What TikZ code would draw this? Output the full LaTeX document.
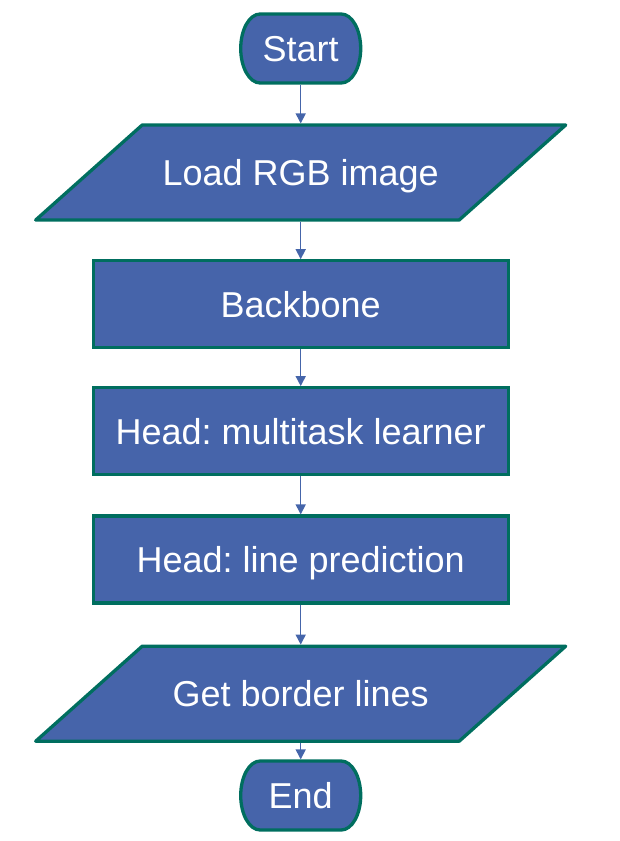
\documentclass[tikz,border=0pt]{standalone}
\usepackage{fontspec}
\setmainfont{Liberation Sans}
\usetikzlibrary{arrows.meta,backgrounds}
\definecolor{fillblue}{RGB}{70,100,170}
\definecolor{edgeteal}{RGB}{0,110,95}
\definecolor{arrowblue}{RGB}{69,101,170}
\frenchspacing
\begin{document}
\begin{tikzpicture}[x=1pt,y=-1pt,
  txt/.style={font=\fontsize{36}{40}\selectfont\frenchspacing, text=white, text height=25.8pt, text depth=0pt},
  procbox/.style={draw=edgeteal, fill=fillblue, line width=3.3pt, minimum width=415pt, minimum height=87pt, inner sep=0pt, outer sep=0pt, txt},
  holder/.style={inner sep=0pt, outer sep=0pt, txt},
  termholder/.style={holder, minimum width=120pt, minimum height=69pt},
  ioholder/.style={holder, minimum width=530pt, minimum height=95pt},
  shapeline/.style={draw=edgeteal, fill=fillblue, line width=3.3pt, line join=round},
  flow/.style={draw=arrowblue, line width=1.5pt, shorten <=1.6pt, shorten >=1.6pt, -{Triangle[length=10pt,width=10pt]}}
]
\useasboundingbox (0,0) rectangle (619,841);

\node[termholder] (start) at (300.7,48.5) {Start};
\node[ioholder] (load) at (300.7,172.5) {Load RGB image};
\node[procbox] (backbone) at (300.7,304.3) {Backbone};
\node[procbox] (multi) at (300.7,431.2) {Head: multitask learner};
\node[procbox] (linepred) at (300.7,559.5) {Head: line prediction};
\node[ioholder] (border) at (300.7,693.7) {Get border lines};
\node[termholder] (end) at (300.7,795.5) {End};

\begin{scope}[on background layer]
  \foreach \n in {start,end}{
    \draw[shapeline] ([xshift=19.5pt]\n.north west) -- ([xshift=-19.5pt]\n.north east)
      arc[start angle=90,end angle=-90,x radius=19.5pt,y radius=34.5pt]
      -- ([xshift=19.5pt]\n.south west)
      arc[start angle=270,end angle=90,x radius=19.5pt,y radius=34.5pt] -- cycle;
  }
  \foreach \n in {load,border}{
    \draw[shapeline] ([xshift=106.5pt]\n.north west) -- (\n.north east)
      -- ([xshift=-106.5pt]\n.south east) -- (\n.south west) -- cycle;
  }
\end{scope}

\draw[flow] (start.south) -- (load.north);
\draw[flow] (load.south) -- (backbone.north);
\draw[flow] (backbone.south) -- (multi.north);
\draw[flow] (multi.south) -- (linepred.north);
\draw[flow] (linepred.south) -- (border.north);
\draw[flow] (border.south) -- (end.north);
\end{tikzpicture}
\end{document}
